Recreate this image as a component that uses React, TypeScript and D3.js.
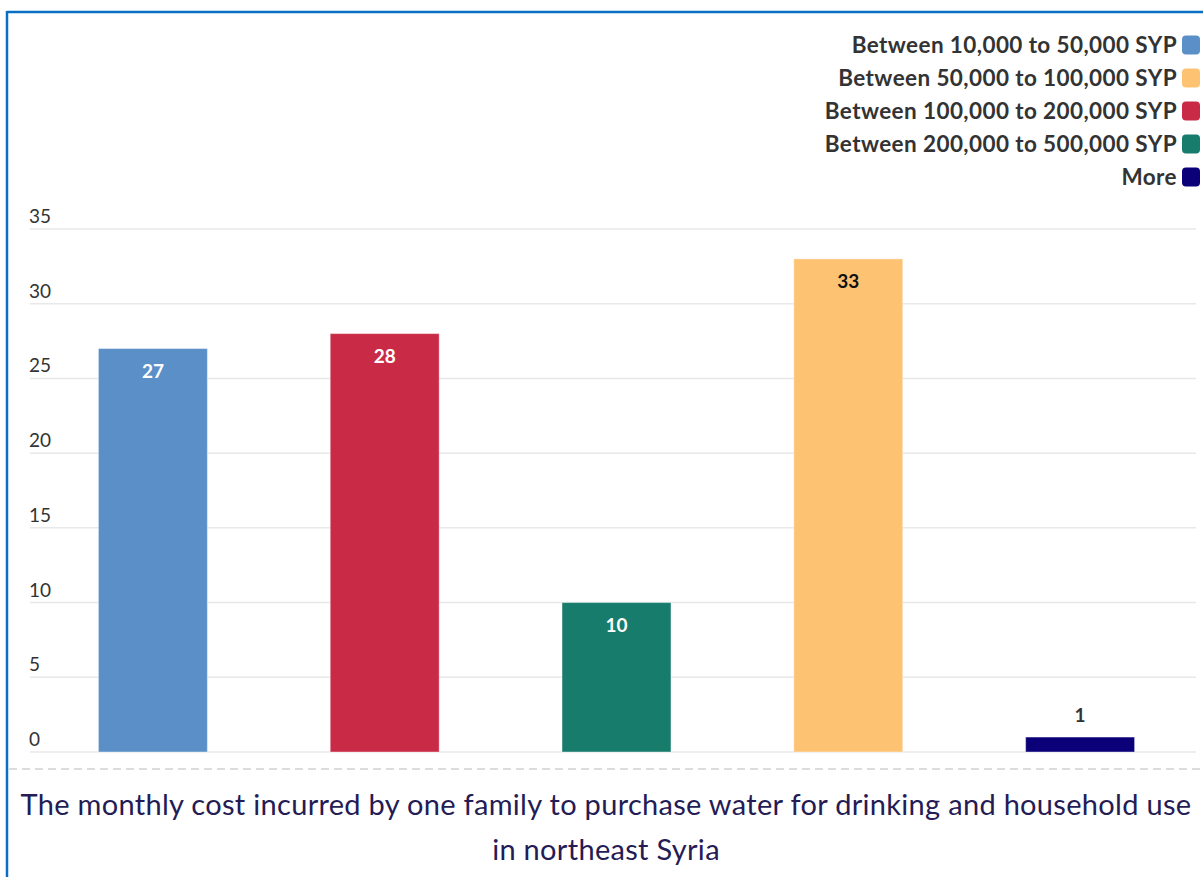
import React from "react";
import * as d3 from "d3";

const categories = [
  "Between 10,000 to 50,000 SYP",
  "Between 100,000 to 200,000 SYP",
  "Between 200,000 to 500,000 SYP",
  "Between 50,000 to 100,000 SYP",
  "More",
];
const values = [27, 28, 10, 33, 1];
const barColors = ["#5b8fc8", "#c92a45", "#177c6b", "#fdc372", "#0b0078"];
const labelColors = ["#ffffff", "#ffffff", "#ffffff", "#111111", "#333333"];
const legendItems = [
  "Between 10,000 to 50,000 SYP",
  "Between 50,000 to 100,000 SYP",
  "Between 100,000 to 200,000 SYP",
  "Between 200,000 to 500,000 SYP",
  "More",
];
const legendColors = ["#5b8fc8", "#fdc372", "#c92a45", "#177c6b", "#0b0078"];
const yTicks = [0, 5, 10, 15, 20, 25, 30, 35];
const titleLines = [
  "The monthly cost incurred by one family to purchase water for drinking and household use",
  "in northeast Syria",
];

const W = 1203;
const H = 877;
const FONT = "Lato, 'Open Sans', sans-serif";

export default function App() {
  const y = d3.scaleLinear().domain([0, 35]).range([752, 229]);
  const x = d3.scaleBand<string>().domain(categories).range([37, 1196]).paddingInner(0.53).paddingOuter(0.265);

  return (
    <svg width={W} height={H} style={{ position: "absolute", left: 0, top: 0, background: "#fff" }} fontFamily={FONT}>
      {/* frame */}
      <line x1={7} x2={W} y1={12} y2={12} stroke="#0a6fc2" strokeWidth={2.5} />
      <line x1={7} x2={7} y1={11} y2={H} stroke="#0a6fc2" strokeWidth={2.5} />

      {/* legend */}
      {legendItems.map((t, i) => {
        const cy = 45 + i * 33;
        return (
          <g key={t}>
            <text x={1177} y={cy} dy="0.35em" textAnchor="end" fontSize={22.5} fontWeight={700} letterSpacing={0.4} fill="#333">
              {t}
            </text>
            <rect x={1182} y={cy - 9.5} width={18} height={19} rx={4} fill={legendColors[i]} />
          </g>
        );
      })}

      {/* grid */}
      {yTicks.map((t) => (
        <g key={t}>
          <line x1={30} x2={1196} y1={y(t)} y2={y(t)} stroke="#e8e8e8" strokeWidth={1.5} />
          <text x={29} y={y(t) - 6} fontSize={19} fill="#333">
            {t}
          </text>
        </g>
      ))}

      {/* bars */}
      {categories.map((c, i) => {
        const bx = x(c)!;
        const bw = x.bandwidth();
        const top = y(values[i]);
        const inside = values[i] > 3;
        return (
          <g key={c}>
            <rect x={bx} y={top} width={bw} height={y(0) - top} fill={barColors[i]} stroke="rgba(255,255,255,0.4)" strokeWidth={1} />
            <text
              x={bx + bw / 2}
              y={inside ? top + 29 : top - 15}
              textAnchor="middle"
              fontSize={19}
              fontWeight={700}
              fill={labelColors[i]}
            >
              {values[i]}
            </text>
          </g>
        );
      })}

      {/* dashed separator */}
      <line x1={9} x2={W} y1={769} y2={769} stroke="#dcdcdc" strokeWidth={2} strokeDasharray="8 5" />

      {/* title */}
      {titleLines.map((t, i) => (
        <text key={i} x={606} y={815 + i * 45} textAnchor="middle" fontSize={29} letterSpacing={0.3} fill="#251c55">
          {t}
        </text>
      ))}
    </svg>
  );
}
